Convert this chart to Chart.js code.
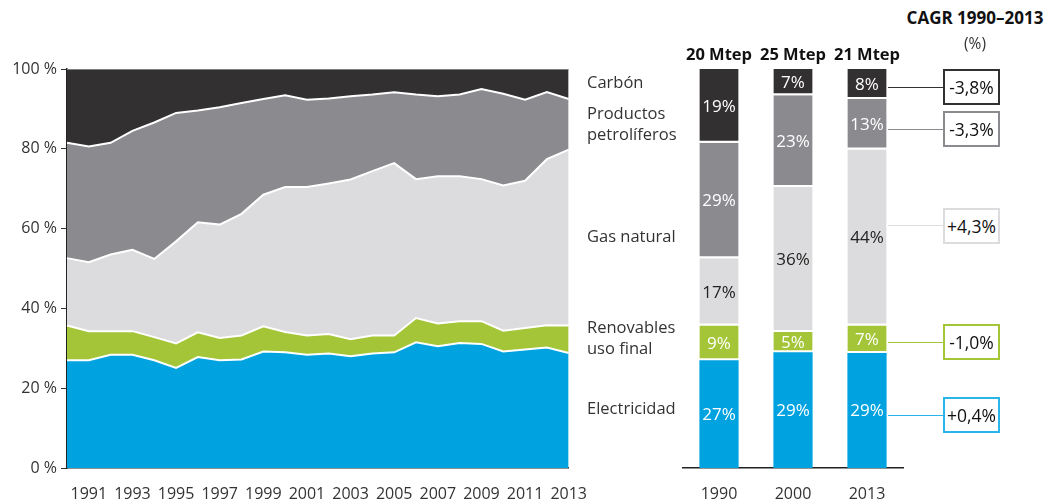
<!DOCTYPE html>
<html lang="es">
<head>
<meta charset="utf-8">
<title>Consumo de energía final por fuente</title>
<script src="https://cdn.jsdelivr.net/npm/chart.js@4/dist/chart.umd.min.js"></script>
<style>
  html, body { margin: 0; padding: 0; background: #fff; }
  body { width: 1051px; height: 504px; position: relative; overflow: hidden;
         font-family: 'Open Sans', 'Noto Sans', sans-serif; color: #333; }
  .box { position: absolute; }
  .lbl { position: absolute; left: 587px; font-size: 16.5px; line-height: 21px; color: #333; white-space: nowrap; }
  .cagr { position: absolute; left: 943px; width: 57px; height: 36px; box-sizing: border-box;
          border: 2px solid #222; font-size: 17.5px; line-height: 32px; text-align: center; color: #111; background: #fff; }
  .link { position: absolute; left: 888px; width: 55px; height: 0; border-top: 1.5px solid #222; }
  .head { position: absolute; text-align: center; color: #111; white-space: nowrap; }
</style>
</head>
<body>

<div class="box" style="left:0; top:40px; width:604px; height:464px;"><canvas id="areaChart"></canvas></div>
<div class="box" style="left:682px; top:40px; width:222px; height:464px;"><canvas id="barChart"></canvas></div>

<div class="lbl" style="top:71px;">Carbón</div>
<div class="lbl" style="top:102px;">Productos<br>petrolíferos</div>
<div class="lbl" style="top:225px;">Gas natural</div>
<div class="lbl" style="top:316px;">Renovables<br>uso final</div>
<div class="lbl" style="top:397px;">Electricidad</div>

<div class="head" style="left:900px; top:6px; width:150px; font-weight:bold; font-size:17px;">CAGR 1990–2013</div>
<div class="head" style="left:900px; top:32px; width:150px; font-size:15.5px; color:#333;">(%)</div>

<div id="cagrBoxes"></div>

<script>
// años y cuotas (%) del consumo final por fuente
const years = [1990, 1991, 1992, 1993, 1994, 1995, 1996, 1997, 1998, 1999, 2000, 2001,
               2002, 2003, 2004, 2005, 2006, 2007, 2008, 2009, 2010, 2011, 2012, 2013];
const electricidad = [27.0, 27.0, 28.4, 28.4, 27.0, 25.1, 27.8, 27.0, 27.2, 29.2, 29.0, 28.4,
                      28.7, 28.0, 28.7, 29.0, 31.5, 30.5, 31.3, 31.1, 29.2, 29.7, 30.2, 28.8];
const renovables = [8.7, 7.3, 5.9, 5.9, 5.8, 6.1, 6.2, 5.6, 6.0, 6.3, 5.1, 4.8,
                    4.9, 4.3, 4.5, 4.2, 6.1, 5.7, 5.5, 5.7, 5.2, 5.4, 5.6, 6.9];
const gasNatural = [16.9, 17.3, 19.2, 20.4, 19.6, 25.6, 27.6, 28.4, 30.5, 33.0, 36.3, 37.2,
                    37.7, 40.0, 41.2, 43.2, 34.8, 36.9, 36.3, 35.6, 36.4, 36.9, 41.6, 44.1];
const petroliferos = [28.9, 29.0, 28.0, 29.8, 34.2, 32.2, 28.0, 29.4, 27.8, 24.0, 23.0, 21.9,
                      21.3, 20.9, 19.2, 17.8, 21.2, 20.1, 20.5, 22.6, 23.0, 20.3, 16.8, 12.7];
const carbon = [18.5, 19.4, 18.5, 15.5, 13.4, 11.0, 10.4, 9.6, 8.5, 7.5, 6.6, 7.7,
                7.4, 6.8, 6.4, 5.8, 6.4, 6.8, 6.4, 5.0, 6.2, 7.7, 5.8, 7.5];

const barYears = [1990, 2000, 2013];
const mtep = [20, 25, 21];
// CAGR 1990-2013: carbón, petrolíferos, gas, renovables, electricidad
const cagr = [-3.8, -3.3, 4.3, -1.0, 0.4];

const yTicks = [0, 20, 40, 60, 80, 100];

const C_ELEC = '#00a3e0', C_REN = '#a3c537', C_GAS = '#dcdcde', C_OIL = '#8b8a8f', C_COAL = '#323031';
const FONT = "'Open Sans', 'Noto Sans', sans-serif";

Chart.defaults.font.family = FONT;
Chart.defaults.color = '#333';

// ---- área apilada ----
function area(label, data, color, fill, line) {
    return {
        label, data, fill,
        backgroundColor: color,
        borderColor: line || '#fff',
        borderWidth: line ? 1.5 : 2,
        pointRadius: 0,
        tension: 0
    };
}

new Chart(document.getElementById('areaChart'), {
    type: 'line',
    data: {
        labels: years.map(String),
        datasets: [
            area('Electricidad', electricidad, C_ELEC, 'origin'),
            area('Renovables uso final', renovables, C_REN, '-1'),
            area('Gas natural', gasNatural, C_GAS, '-1'),
            area('Productos petrolíferos', petroliferos, C_OIL, '-1'),
            area('Carbón', carbon, C_COAL, '-1', '#9a9a9a')
        ]
    },
    options: {
        responsive: true,
        maintainAspectRatio: false,
        animation: false,
        layout: { padding: { top: 29, right: 25, left: 0, bottom: 0 } },
        plugins: { legend: { display: false }, tooltip: { enabled: false } },
        scales: {
            x: {
                offset: false,
                grid: { display: false, drawTicks: false },
                border: { color: '#222', width: 1.5 },
                ticks: {
                    autoSkip: false, maxRotation: 0, padding: 17,
                    font: { size: 16 }, color: '#333',
                    callback: (v, i) => (i % 2 === 1 ? years[i] : '')
                },
                afterFit: s => { s.height = 36; }
            },
            y: {
                stacked: true,
                min: 0, max: 100,
                afterBuildTicks: s => { s.ticks = yTicks.map(v => ({ value: v })); },
                grid: { drawOnChartArea: false, drawTicks: true, tickLength: 6, color: '#333' },
                border: { color: '#222', width: 1.5 },
                ticks: { padding: 4, font: { size: 16 }, color: '#333', callback: v => v + ' %' },
                afterFit: s => { s.width = 67; }
            }
        }
    }
});

// ---- barras 1990 / 2000 / 2013 ----
const pick = arr => barYears.map(y => arr[years.indexOf(y)]);

function bar(label, data, color, textColor, gap) {
    return {
        label, data, textColor,
        backgroundColor: color,
        borderColor: '#fff',
        borderWidth: { top: 0, left: 0, right: 0, bottom: gap ? 2 : 0 },
        borderSkipped: false,
        barPercentage: 0.53,
        categoryPercentage: 1
    };
}

const barLabels = {
    id: 'barLabels',
    afterDatasetsDraw(chart) {
        const ctx = chart.ctx;
        ctx.save();
        ctx.textAlign = 'center';
        ctx.textBaseline = 'middle';
        ctx.font = '17px ' + FONT;
        chart.data.datasets.forEach((ds, di) => {
            chart.getDatasetMeta(di).data.forEach((el, i) => {
                const p = el.getProps(['x', 'y', 'base'], true);
                ctx.fillStyle = ds.textColor;
                ctx.fillText(Math.round(ds.data[i]) + '%', p.x, (p.y + p.base) / 2 + 1);
            });
        });
        // total en Mtep encima de cada barra
        ctx.font = 'bold 16.5px ' + FONT;
        ctx.fillStyle = '#111';
        chart.getDatasetMeta(0).data.forEach((el, i) => {
            ctx.fillText(mtep[i] + ' Mtep', el.x, chart.chartArea.top - 14);
        });
        ctx.restore();
    }
};

new Chart(document.getElementById('barChart'), {
    type: 'bar',
    data: {
        labels: barYears.map(String),
        datasets: [
            bar('Electricidad', pick(electricidad), C_ELEC, '#fff', false),
            bar('Renovables uso final', pick(renovables), C_REN, '#fff', true),
            bar('Gas natural', pick(gasNatural), C_GAS, '#222', true),
            bar('Productos petrolíferos', pick(petroliferos), C_OIL, '#fff', true),
            bar('Carbón', pick(carbon), C_COAL, '#fff', true)
        ]
    },
    options: {
        responsive: true,
        maintainAspectRatio: false,
        animation: false,
        layout: { padding: { top: 29, right: 0, left: 0, bottom: 0 } },
        plugins: { legend: { display: false }, tooltip: { enabled: false } },
        scales: {
            x: {
                stacked: true,
                grid: { display: false, drawTicks: false },
                border: { color: '#222', width: 1.5 },
                ticks: { padding: 17, font: { size: 16 }, color: '#333' },
                afterFit: s => { s.height = 36; }
            },
            y: { stacked: true, display: false, min: 0, max: 100 }
        }
    },
    plugins: [barLabels]
});

// ---- cajas CAGR con sus conectores ----
const boxTops = [69, 111, 207.5, 324, 397];
const boxColors = [C_COAL, '#8b8a8f', '#dcdcde', C_REN, '#29b5ea'];
const holder = document.getElementById('cagrBoxes');
cagr.forEach((v, i) => {
    const txt = (v > 0 ? '+' : '') + v.toFixed(1).replace('.', ',') + '%';
    const link = document.createElement('div');
    link.className = 'link';
    link.style.top = (boxTops[i] + 17.5) + 'px';
    link.style.borderTopColor = boxColors[i];
    holder.appendChild(link);
    const box = document.createElement('div');
    box.className = 'cagr';
    box.style.top = boxTops[i] + 'px';
    box.style.borderColor = boxColors[i];
    box.textContent = txt;
    holder.appendChild(box);
});
</script>
</body>
</html>
